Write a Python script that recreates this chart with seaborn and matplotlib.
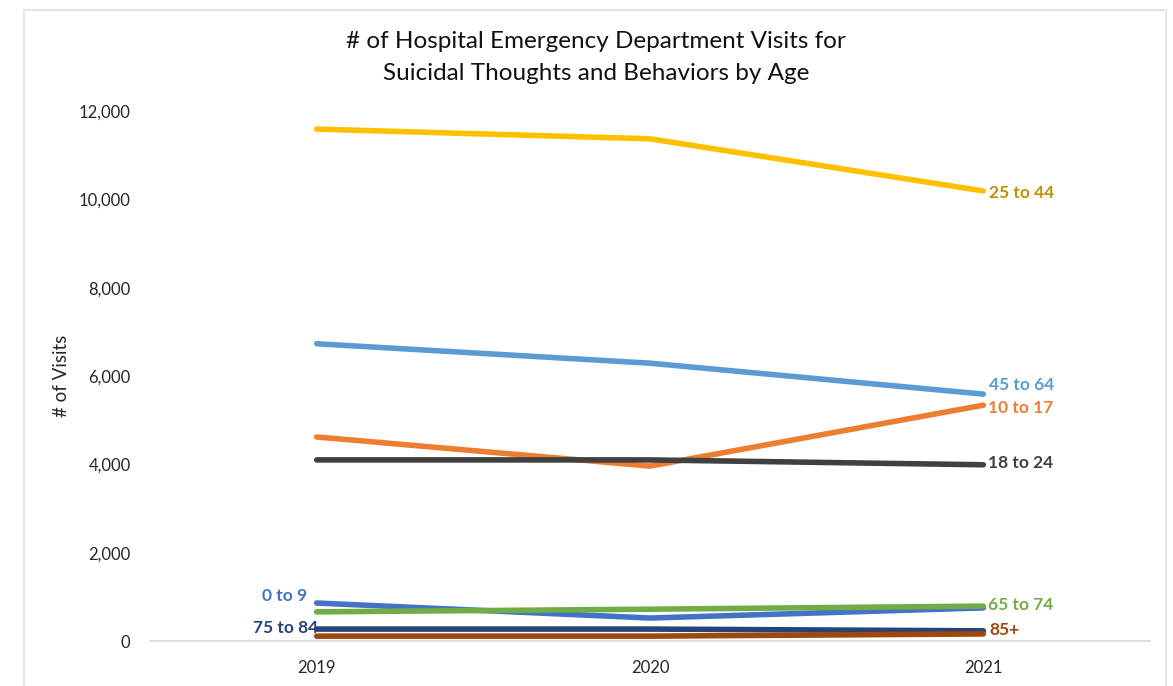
import matplotlib
matplotlib.use("Agg")
import matplotlib.pyplot as plt
import matplotlib.ticker as mticker
from matplotlib.patches import Rectangle
import pandas as pd
import seaborn as sns

# Visits per age group and year
years = ["2019", "2020", "2021"]
age_groups = ["0 to 9", "10 to 17", "18 to 24", "25 to 44",
              "45 to 64", "65 to 74", "75 to 84", "85+"]
visits_0_9 = [860, 520, 750]
visits_10_17 = [4620, 3960, 5340]
visits_18_24 = [4100, 4100, 3990]
visits_25_44 = [11590, 11370, 10190]
visits_45_64 = [6730, 6290, 5590]
visits_65_74 = [660, 720, 790]
visits_75_84 = [270, 270, 230]
visits_85_plus = [110, 110, 160]

series = [visits_0_9, visits_10_17, visits_18_24, visits_25_44,
          visits_45_64, visits_65_74, visits_75_84, visits_85_plus]

line_colors = ["#4472C4", "#ED7D31", "#404040", "#FFC000",
               "#5B9BD5", "#70AD47", "#264478", "#9E480E"]
label_colors = ["#4472C4", "#ED7D31", "#404040", "#BF9000",
                "#5B9BD5", "#70AD47", "#264478", "#9E480E"]

rows = []
for grp, vals in zip(age_groups, series):
    for i, (yr, v) in enumerate(zip(years, vals)):
        rows.append({"Year": i, "Visits": v, "Age": grp})
df = pd.DataFrame(rows)

sns.set_theme(style="white")
plt.rcParams["font.family"] = ["Lato", "DejaVu Sans"]

W, H = 1173, 686
fig = plt.figure(figsize=(W / 100, H / 100), dpi=100)

# light frame around the chart area
fig.patches.append(Rectangle((24 / W, -0.05), (1166 - 24) / W, 1 - 10 / H + 0.05,
                             transform=fig.transFigure, fill=False,
                             edgecolor="#E6E6E6", linewidth=1.5))

ax = fig.add_axes([150 / W, 1 - 641 / H, (1150 - 150) / W, (641 - 111) / H])

sns.lineplot(data=df, x="Year", y="Visits", hue="Age", hue_order=age_groups,
             palette=dict(zip(age_groups, line_colors)), linewidth=4.0,
             legend=False, ax=ax, solid_capstyle="round")

ax.set_xlim(-0.5, 2.5)
ax.set_ylim(0, 12000)
ax.set_xticks(range(len(years)))
ax.set_xticklabels(years)
ax.yaxis.set_major_locator(mticker.MultipleLocator(2000))
ax.yaxis.set_major_formatter(mticker.StrMethodFormatter("{x:,.0f}"))
ax.tick_params(axis="both", length=0, labelsize=12, colors="#262626")
ax.tick_params(axis="x", pad=14)
ax.tick_params(axis="y", pad=14)
ax.set_xlabel("")
ax.set_ylabel("# of Visits", fontsize=13.5, color="#262626", labelpad=6)
for side in ["top", "right", "left"]:
    ax.spines[side].set_visible(False)
ax.spines["bottom"].set_color("#D9D9D9")
ax.spines["bottom"].set_linewidth(1.2)
ax.set_facecolor("none")

# end-of-line labels (pixel offsets from the data point)
offsets = {
    "0 to 9": (0, -10, 7, "right"),
    "10 to 17": (2, 5, -3, "left"),
    "18 to 24": (2, 5, 2, "left"),
    "25 to 44": (2, 6, -2, "left"),
    "45 to 64": (2, 6, 9, "left"),
    "65 to 74": (2, 5, 1, "left"),
    "75 to 84": (0, 1, 1, "right"),
    "85+": (2, 6, 4, "left"),
}
for grp, vals, col in zip(age_groups, series, label_colors):
    idx, dx, dy, ha = offsets[grp]
    ax.annotate(grp, xy=(idx, vals[idx]), xytext=(dx, dy),
                textcoords="offset pixels", ha=ha, va="center",
                fontsize=12.5, fontweight="bold", color=col)

fig.text(596 / W, 1 - 42 / H, "# of Hospital Emergency Department Visits for",
         ha="center", va="center", fontsize=17.5, color="#111111")
fig.text(596 / W, 1 - 74 / H, "Suicidal Thoughts and Behaviors by Age",
         ha="center", va="center", fontsize=17.5, color="#111111")

fig.savefig("out.png", dpi=100, facecolor="white")
